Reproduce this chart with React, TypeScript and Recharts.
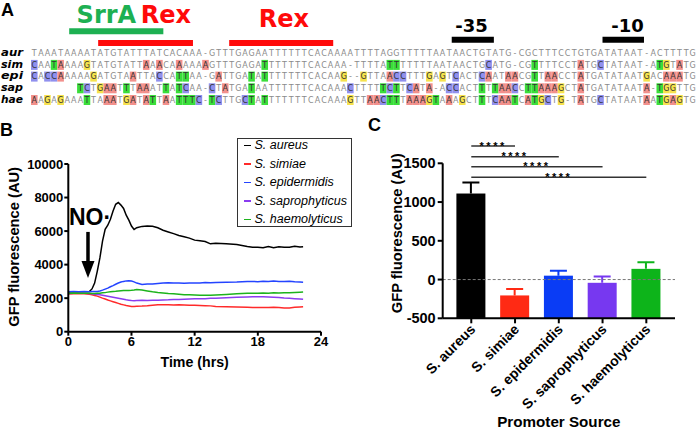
// Promoter alignment + NO· GFP reporter kinetics + endpoint bar chart (3 panels)

import React from 'react'
import {
  ScatterChart,
  Scatter,
  LineChart,
  Line,
  BarChart,
  Bar,
  XAxis,
  YAxis,
  ReferenceArea,
  ReferenceLine,
  ReferenceDot,
  Legend,
} from 'recharts'

// ---- panel A: aligned promoter regions ----
const speciesCodes = ['aur', 'sim', 'epi', 'sap', 'hae']
const alignedSeqs = [
  'TAAATAAAATATGTATTTATCACAAA-GTTTGAGAATTTTTTCACAAAATTTTAGGTTTTTAATAACTGTATG-CGCTTTCCTGTGATATAAT-ACTTTTG',
  'CAATAAAAGTATGTATTAAACAAAAAAGTTTGAGATTTTTTTCACAAA-TTTTATTTTTTTAATAACTGCATG-CGTTTTCCTATGCTATAAT-ATGTATG',
  'CACCAAAAAGATGTAATTACCATTAA-GATTGATATTTTTTTCACAAG--GTTAACCTTTGAGTCACTCAATAACGTTAACCTATGATATAATGACAAATG',
  '       TCTGAATTTAAATTATCAA-CTATGATAATTTTTTCACAAACTTTTTCTTCATA-ACCACTTTTAACCTTAAAGCTATGATATAATA-TGGTTG',
  'AAGAGAAATTAAATGATATTAATTTC-TCTTGCTATTTTTTTCACAAAGTTAACTTTAAAGTAAAGCTTTCAATCATGCTG-TATGCTATAATAATGAGTG',
]
// annotated sites, in alignment columns
const siteNames = ['SrrA', 'Rex', 'Rex', '-35', '-10']
const siteFrom = [5.3, 9.7, 29.6, 63.4, 86.3]
const siteTo = [19.6, 24.1, 45.4, 69.8, 92.6]

// ---- panel B: GFP fluorescence over time after NO· ----
const timeHrs = [
  0, 0.5, 1, 1.5, 2, 2.25, 2.5, 2.75, 3, 3.25, 3.5, 3.75, 4, 4.25, 4.5, 4.75, 5, 5.25, 5.5, 5.75, 6, 6.25, 6.5,
  7, 7.5, 8, 8.5, 9, 9.5, 10, 10.5, 11, 11.5, 12, 12.5, 13, 13.5, 14, 15, 16, 17, 17.5, 18, 18.5, 19, 19.5, 20,
  20.5, 21, 21.5, 22, 22.3,
]
const aureusGfp = [
  2350, 2380, 2370, 2380, 2390, 2550, 2900, 3600, 4400, 5400, 6100, 6350, 6700, 7200, 7600, 7700, 7550, 7350,
  6950, 6650, 6300, 6100, 6200, 6280, 6300, 6290, 6200, 6050, 5950, 5850, 5740, 5660, 5580, 5460, 5420, 5380,
  5240, 5270, 5250, 5200, 5080, 5030, 5040, 5000, 5080, 5010, 5060, 5030, 5040, 5100, 5050, 5060,
]
const simiaeGfp = [
  2250, 2270, 2280, 2260, 2230, 2200, 2160, 2120, 2060, 2000, 1950, 1890, 1840, 1790, 1740, 1690, 1640, 1600,
  1560, 1530, 1500, 1510, 1520, 1530, 1550, 1580, 1600, 1610, 1600, 1590, 1600, 1590, 1580, 1570, 1560, 1550,
  1540, 1510, 1490, 1480, 1460, 1450, 1440, 1450, 1440, 1460, 1450, 1420, 1410, 1460, 1480, 1490,
]
const epidermidisGfp = [
  2380, 2390, 2380, 2390, 2380, 2390, 2390, 2400, 2430, 2480, 2540, 2600, 2680, 2750, 2830, 2900, 2960, 3000,
  3030, 3040, 3020, 2970, 2900, 2820, 2840, 2850, 2880, 2900, 2920, 2900, 2910, 2890, 2900, 2910, 2900, 2930,
  2920, 2940, 2950, 2960, 2990, 3000, 2980, 3010, 3000, 3020, 3000, 2990, 3010, 2980, 2960, 2950,
]
const saprophyticusGfp = [
  2280, 2300, 2300, 2290, 2280, 2260, 2240, 2220, 2200, 2170, 2140, 2110, 2080, 2050, 2020, 1990, 1960, 1930,
  1900, 1880, 1860, 1850, 1860, 1870, 1860, 1870, 1880, 1890, 1900, 1920, 1920, 1940, 1950, 1960, 1970, 1970,
  1990, 2000, 2020, 2050, 2070, 2080, 2090, 2080, 2070, 2060, 2040, 2010, 1990, 1970, 1950, 1940,
]
const haemolyticusGfp = [
  2300, 2310, 2300, 2300, 2290, 2280, 2280, 2290, 2300, 2320, 2330, 2360, 2380, 2400, 2410, 2430, 2440, 2450,
  2450, 2460, 2470, 2490, 2520, 2480, 2430, 2380, 2340, 2310, 2280, 2260, 2240, 2210, 2200, 2190, 2180, 2170,
  2180, 2190, 2220, 2260, 2290, 2300, 2300, 2310, 2300, 2320, 2310, 2320, 2330, 2340, 2350, 2360,
]

// ---- panel C: promoter activity ----
const promoterSources = ['S. aureus', 'S. simiae', 'S. epidermidis', 'S. saprophyticus', 'S. haemolyticus']
const meanGfp = [1110, -205, 50, -42, 138]
const sdGfp = [142, 82, 64, 82, 84]
const sigLabels = ['****', '****', '****', '****']

// ---- styles ----
const BASE_FILL: Record<string, string> = { A: '#f2908c', T: '#3ade3a', G: '#f6e24c', C: '#9090ee' }
const SITE_STYLE = [
  { color: '#1db052', bar: [-2.13, -1.62], labelCol: 10.95, labelRow: -2.62, size: 24 },
  { color: '#ff0a0a', bar: [-1.13, -0.62], labelCol: 20.0, labelRow: -2.62, size: 24 },
  { color: '#ff0a0a', bar: [-1.13, -0.62], labelCol: 37.9, labelRow: -2.24, size: 24 },
  { color: '#000000', bar: [-1.41, -0.9], labelCol: 66.4, labelRow: -1.84, size: 18 },
  { color: '#000000', bar: [-1.41, -0.9], labelCol: 90.1, labelRow: -1.84, size: 18 },
]
const SERIES = [
  { key: 'aureus', name: 'S. aureus', color: '#000000' },
  { key: 'simiae', name: 'S. simiae', color: '#ff2a2a' },
  { key: 'epidermidis', name: 'S. epidermidis', color: '#2444ff' },
  { key: 'saprophyticus', name: 'S. saprophyticus', color: '#8a3cf0' },
  { key: 'haemolyticus', name: 'S. haemolyticus', color: '#1db31d' },
]
const BAR_COLORS = ['#000000', '#ff2a14', '#0a3cf5', '#7738f0', '#0db41a']
const BRACKET_Y = [1723, 1585, 1456, 1319]
const CELL_W = 665 / 101

const AXIS_LINE = { stroke: '#000', strokeWidth: 2 }
const BOLD_TICK = { fill: '#000', fontSize: 13, fontWeight: 700 }

const alignmentCells = alignedSeqs.flatMap((seq, row) =>
  seq
    .split('')
    .map((base, col) => ({
      col,
      row,
      base,
      diff: row > 0 && base !== '-' && base !== alignedSeqs[0][col],
    }))
    .filter((c) => c.base !== ' ')
)
const siteLabels = siteNames.map((text, i) => ({
  col: SITE_STYLE[i].labelCol,
  row: SITE_STYLE[i].labelRow,
  text,
  i,
}))

const kineticsRows = timeHrs.map((t, i) => ({
  t,
  aureus: aureusGfp[i],
  simiae: simiaeGfp[i],
  epidermidis: epidermidisGfp[i],
  saprophyticus: saprophyticusGfp[i],
  haemolyticus: haemolyticusGfp[i],
}))

const promoterRows = promoterSources.map((name, i) => ({ name, mean: meanGfp[i], sd: sdGfp[i] }))

const BaseCell = (props: any) => {
  const { cx, cy, payload } = props
  return (
    <g>
      {payload.diff && (
        <rect x={cx - CELL_W / 2} y={cy - 5} width={CELL_W} height={10} fill={BASE_FILL[payload.base]} />
      )}
      <text
        x={cx}
        y={cy + 2.9}
        textAnchor="middle"
        fontSize={8}
        fontFamily="DejaVu Sans"
        fill={payload.diff ? '#333' : '#8a8a8a'}
      >
        {payload.base}
      </text>
    </g>
  )
}

const SiteLabel = (props: any) => {
  const { cx, cy, payload } = props
  const s = SITE_STYLE[payload.i]
  return (
    <text x={cx} y={cy} textAnchor="middle" fontSize={s.size} fontWeight={700} fontFamily="DejaVu Sans" fill={s.color}>
      {payload.text}
    </text>
  )
}

const RowTick = (props: any) => {
  const { y, payload } = props
  return (
    <text
      x={1}
      y={y + 2.8}
      fontSize={10}
      fontWeight={700}
      fontStyle="italic"
      fontFamily="DejaVu Sans"
      textLength={22}
      lengthAdjust="spacingAndGlyphs"
      fill="#000"
    >
      {speciesCodes[payload.value]}
    </text>
  )
}

const yTitle = (cx: number, dy: number) => (props: any) => {
  const vb = props.viewBox
  const cy = vb.y + vb.height / 2 + dy
  return (
    <text
      x={cx}
      y={cy}
      transform={`rotate(-90 ${cx} ${cy})`}
      textAnchor="middle"
      dominantBaseline="central"
      fontSize={14.7}
      fontWeight={700}
      fill="#000"
    >
      GFP fluorescence (AU)
    </text>
  )
}

const xTitle = (text: string, dy: number, size: number) => (props: any) => {
  const vb = props.viewBox
  return (
    <text x={vb.x + vb.width / 2} y={vb.y + dy} textAnchor="middle" fontSize={size} fontWeight={700} fill="#000">
      {text}
    </text>
  )
}

const renderLegend = (props: any) => {
  const order = SERIES.map((s) => s.name)
  const items = [...(props.payload || [])].sort((a: any, b: any) => order.indexOf(a.value) - order.indexOf(b.value))
  return (
    <div
      style={{
        width: 115,
        height: 89,
        boxSizing: 'border-box',
        border: '1.5px solid #333',
        background: '#fff',
        paddingLeft: 5.5,
      }}
    >
      <div style={{ marginTop: -3 }}>
        {items.map((p: any) => (
          <div
            key={p.value}
            style={{ height: 18.5, display: 'flex', alignItems: 'center', fontStyle: 'italic', fontSize: 12.5, color: '#000' }}
          >
            <span style={{ display: 'inline-block', width: 7, height: 1.5, background: p.color, marginRight: 4 }} />
            {p.value}
          </div>
        ))}
      </div>
    </div>
  )
}

const ArrowHead = (props: any) => {
  const { cx, cy } = props
  return <path d={`M${cx - 6.5},${cy - 17} L${cx + 6.5},${cy - 17} L${cx},${cy} Z`} fill="#000" />
}

const NoLabel = (props: any) => (
  <text x={props.cx} y={props.cy} textAnchor="middle" fontSize={23} fontWeight={700} fill="#000">
    NO·
  </text>
)

const BarWithSd = (props: any) => {
  const { x, y, width, height, payload, index } = props
  const color = BAR_COLORS[index]
  const pxPerUnit = height / (payload.mean + 500)
  const top = y - payload.sd * pxPerUnit
  const cx = x + width / 2
  return (
    <g>
      <rect x={x} y={y} width={width} height={height} fill={color} />
      <line x1={cx} x2={cx} y1={y} y2={top} stroke={color} strokeWidth={2} />
      <line x1={cx - 8.5} x2={cx + 8.5} y1={top} y2={top} stroke={color} strokeWidth={2} />
    </g>
  )
}

const SpeciesTick = (props: any) => {
  const { x, y, payload } = props
  const ax = x + 5
  const ay = y + 5
  return (
    <text
      x={ax}
      y={ay}
      transform={`rotate(-45 ${ax} ${ay})`}
      textAnchor="end"
      fontSize={14}
      fontWeight={700}
      fill="#000"
    >
      {payload.value}
    </text>
  )
}

const PanelLetter = ({ letter, left, top }: { letter: string; left: number; top: number }) => (
  <div style={{ position: 'absolute', left, top, fontSize: 18, fontWeight: 700, lineHeight: 'normal' }}>{letter}</div>
)

export default function App() {
  return (
    <div
      style={{
        position: 'absolute',
        left: 0,
        top: 0,
        width: 696,
        height: 431,
        background: '#fff',
        overflow: 'hidden',
        fontFamily: '"Liberation Sans", Arial, sans-serif',
      }}
    >
      {/* A */}
      <div style={{ position: 'absolute', left: 0, top: 0 }}>
        <ScatterChart width={696} height={110} margin={{ top: 0, right: 0, bottom: 0, left: 0 }}>
          <XAxis type="number" dataKey="col" domain={[-0.5, 100.5]} hide allowDataOverflow />
          <YAxis
            type="number"
            dataKey="row"
            domain={[-4.547, 4.855]}
            reversed
            allowDataOverflow
            width={31}
            ticks={[0, 1, 2, 3, 4]}
            interval={0}
            tick={<RowTick />}
            axisLine={false}
            tickLine={false}
          />
          {siteNames.map((name, i) => (
            <ReferenceArea
              key={name + i}
              x1={siteFrom[i]}
              x2={siteTo[i]}
              y1={SITE_STYLE[i].bar[0]}
              y2={SITE_STYLE[i].bar[1]}
              fill={SITE_STYLE[i].color}
              fillOpacity={1}
              stroke="none"
              ifOverflow="visible"
            />
          ))}
          <Scatter data={alignmentCells} shape={BaseCell} isAnimationActive={false} />
          <Scatter data={siteLabels} shape={SiteLabel} isAnimationActive={false} />
        </ScatterChart>
      </div>

      {/* B */}
      <div style={{ position: 'absolute', left: 0, top: 110 }}>
        <LineChart width={352} height={290} data={kineticsRows} margin={{ top: 54, right: 31, bottom: 28.3, left: 0 }}>
          <XAxis
            type="number"
            dataKey="t"
            domain={[0, 24]}
            ticks={[0, 6, 12, 18, 24]}
            height={40}
            axisLine={AXIS_LINE}
            tickLine={AXIS_LINE}
            tickSize={4}
            tickMargin={1}
            tick={BOLD_TICK}
            label={{ content: xTitle('Time (hrs)', 34.8, 14.2) }}
          />
          <YAxis
            type="number"
            domain={[0, 10000]}
            ticks={[0, 2000, 4000, 6000, 8000, 10000]}
            width={68.3}
            axisLine={AXIS_LINE}
            tickLine={AXIS_LINE}
            tickSize={4}
            tickMargin={1}
            tick={BOLD_TICK}
            label={{ content: yTitle(13.7, -1) }}
          />
          {SERIES.map((s) => (
            <Line
              key={s.key}
              type="linear"
              dataKey={s.key}
              name={s.name}
              stroke={s.color}
              strokeWidth={1.5}
              dot={false}
              isAnimationActive={false}
            />
          ))}
          <ReferenceLine
            segment={[
              { x: 1.87, y: 5950 },
              { x: 1.87, y: 4150 },
            ]}
            stroke="#000"
            strokeWidth={3.5}
          />
          <ReferenceDot x={1.87} y={3200} shape={ArrowHead} />
          <ReferenceDot x={2.06} y={6360} shape={NoLabel} />
          <Legend
            layout="vertical"
            align="center"
            verticalAlign="middle"
            content={renderLegend}
            wrapperStyle={{ position: 'absolute', left: 237, top: 28, width: 115, height: 89 }}
          />
        </LineChart>
      </div>

      {/* C */}
      <div style={{ position: 'absolute', left: 350, top: 110 }}>
        <BarChart width={346} height={321} data={promoterRows} margin={{ top: 53.3, right: 21, bottom: 2.7, left: 0 }}>
          <XAxis
            dataKey="name"
            type="category"
            padding={{ left: 6.7, right: 6.8 }}
            height={110}
            interval={0}
            axisLine={AXIS_LINE}
            tickLine={AXIS_LINE}
            tickSize={5}
            tick={<SpeciesTick />}
            label={{ content: xTitle('Promoter Source', 109, 15.2) }}
          />
          <YAxis
            type="number"
            domain={[-500, 1500]}
            ticks={[-500, 0, 500, 1000, 1500]}
            allowDataOverflow
            width={92.7}
            axisLine={AXIS_LINE}
            tickLine={AXIS_LINE}
            tickSize={5}
            tickMargin={2}
            tick={{ fill: '#000', fontSize: 14.5, fontWeight: 700 }}
            label={{ content: yTitle(46.7, -7.5) }}
          />
          <ReferenceLine y={0} stroke="#777" strokeDasharray="3 2" strokeWidth={1} />
          <Bar
            dataKey={(d: any) => [-500, d.mean]}
            barSize={29}
            shape={BarWithSd}
            isAnimationActive={false}
          />
          {sigLabels.map((txt, i) => (
            <ReferenceLine
              key={i}
              segment={[
                { x: promoterSources[0], y: BRACKET_Y[i] },
                { x: promoterSources[i + 1], y: BRACKET_Y[i] },
              ]}
              stroke="#333"
              strokeWidth={1.5}
              ifOverflow="visible"
              label={{ value: txt, position: 'top', offset: -3.5, fontSize: 11, fontWeight: 700, fill: '#000', letterSpacing: 2.5 }}
            />
          ))}
        </BarChart>
      </div>

      <PanelLetter letter="A" left={1} top={0} />
      <PanelLetter letter="B" left={0} top={120} />
      <PanelLetter letter="C" left={368} top={115} />
    </div>
  )
}
